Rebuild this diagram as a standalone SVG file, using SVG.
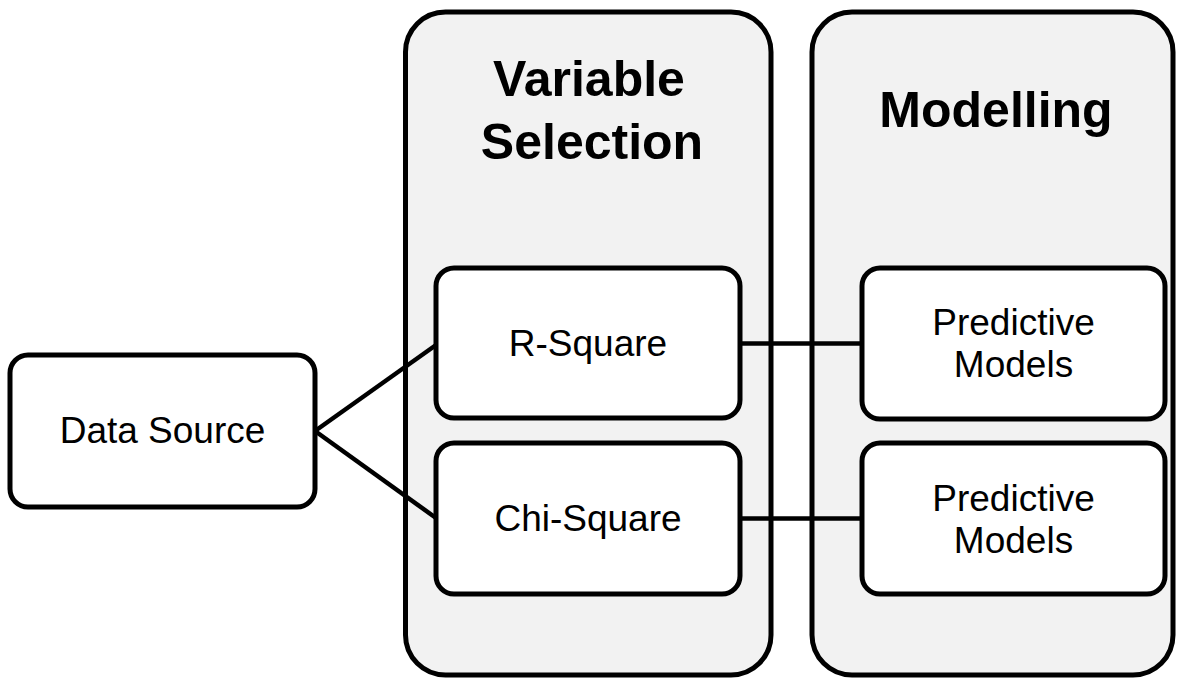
<svg xmlns="http://www.w3.org/2000/svg" width="1178" height="679" viewBox="0 0 1178 679">
<style>
.container{fill:#f2f2f2;stroke:#000;stroke-width:5}
.node{fill:#fff;stroke:#000;stroke-width:5}
.conn{stroke:#000;stroke-width:4.5;fill:none}
.title{font-family:"Liberation Sans",Arial,sans-serif;font-weight:bold;font-size:50px;fill:#000;text-anchor:middle}
.label{font-family:"Liberation Sans",Arial,sans-serif;font-size:37px;fill:#000;text-anchor:middle}
</style>
<rect width="1178" height="679" fill="#fff"/>
<g id="container-variable-selection">
<rect class="container" x="405.5" y="12" width="365.5" height="663" rx="40" ry="40"/>
<text class="title" x="589" y="96">Variable</text>
<text class="title" x="592" y="159">Selection</text>
</g>
<g id="container-modelling">
<rect class="container" x="812" y="12" width="361" height="663" rx="40" ry="40"/>
<text class="title" x="996" y="127">Modelling</text>
</g>
<g id="connectors">
<line class="conn" x1="315" y1="431" x2="436" y2="345"/>
<line class="conn" x1="315" y1="431" x2="436" y2="518"/>
<line class="conn" x1="740" y1="343.5" x2="862" y2="343.5"/>
<line class="conn" x1="740" y1="518.5" x2="862" y2="518.5"/>
</g>
<g id="node-data-source">
<rect class="node" x="10" y="355" width="305" height="152" rx="18" ry="18"/>
<text class="label" x="162.5" y="443">Data Source</text>
</g>
<g id="node-r-square">
<rect class="node" x="436" y="268" width="304" height="150" rx="18" ry="18"/>
<text class="label" x="588" y="356">R-Square</text>
</g>
<g id="node-chi-square">
<rect class="node" x="436" y="443" width="304" height="151" rx="18" ry="18"/>
<text class="label" x="588" y="531">Chi-Square</text>
</g>
<g id="node-predictive-models-1">
<rect class="node" x="862" y="268" width="303" height="151" rx="18" ry="18"/>
<text class="label" x="1013.5" y="335">Predictive</text>
<text class="label" x="1013.5" y="377">Models</text>
</g>
<g id="node-predictive-models-2">
<rect class="node" x="862" y="443" width="303" height="151" rx="18" ry="18"/>
<text class="label" x="1013.5" y="511">Predictive</text>
<text class="label" x="1013.5" y="553">Models</text>
</g>
</svg>
